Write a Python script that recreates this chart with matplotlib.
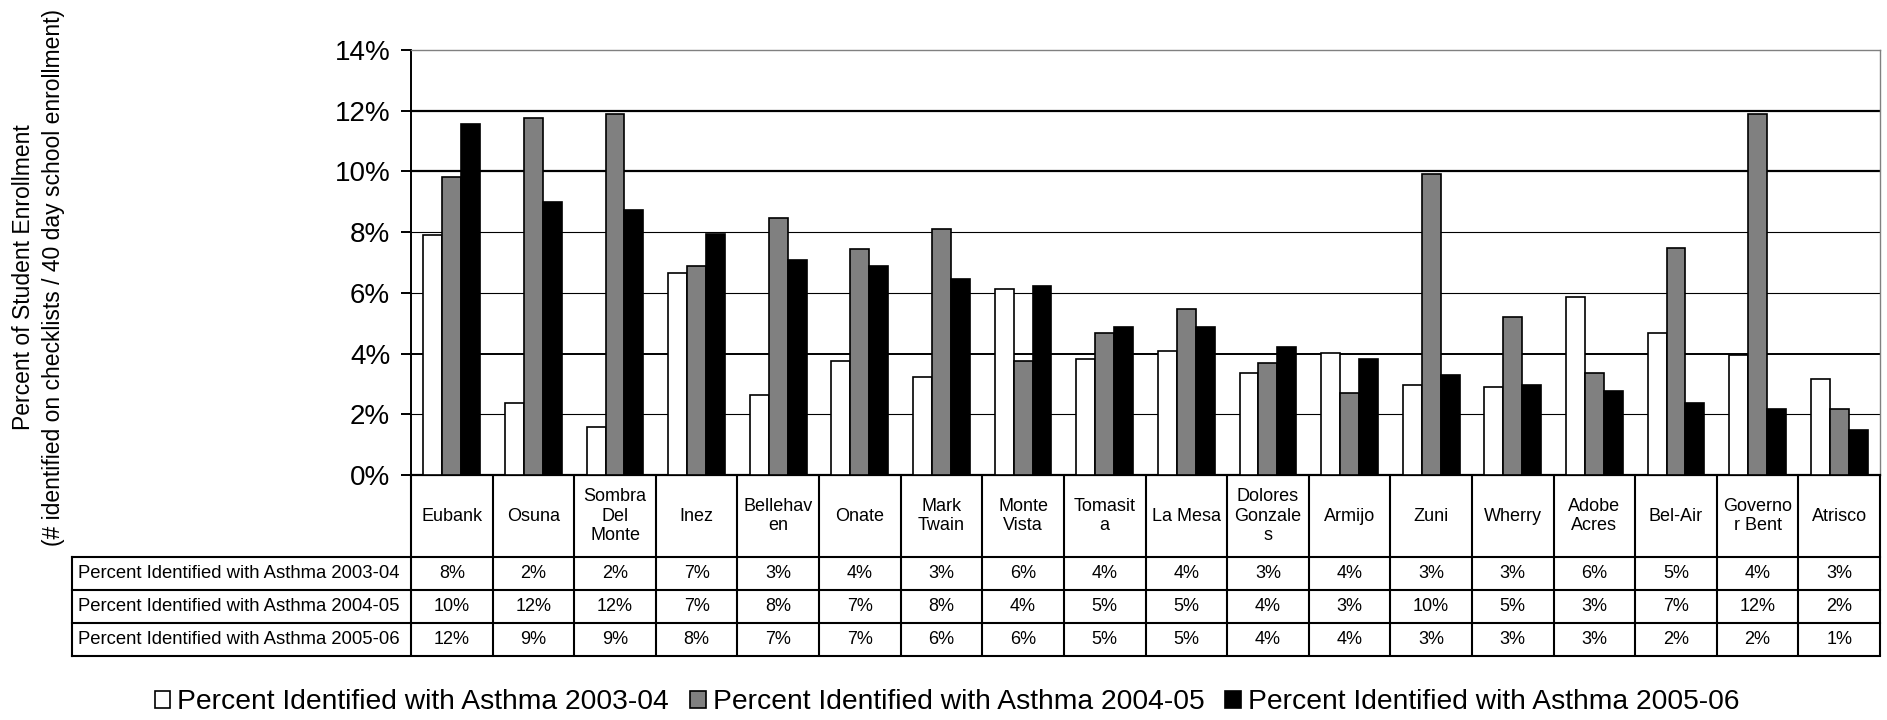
import matplotlib
matplotlib.use("Agg")
import matplotlib.pyplot as plt
from matplotlib.patches import Patch

plt.rcParams["font.family"] = ["Liberation Sans", "DejaVu Sans"]

# School names as they are wrapped in the table header
schools = [
    "Eubank", "Osuna", "Sombra\nDel\nMonte", "Inez", "Bellehav\nen", "Onate",
    "Mark\nTwain", "Monte\nVista", "Tomasit\na", "La Mesa", "Dolores\nGonzale\ns",
    "Armijo", "Zuni", "Wherry", "Adobe\nAcres", "Bel-Air", "Governo\nr Bent", "Atrisco",
]

series_names = [
    "Percent Identified with Asthma 2003-04",
    "Percent Identified with Asthma 2004-05",
    "Percent Identified with Asthma 2005-06",
]

# Percent of enrollment identified with asthma
rate_2003_04 = [7.92, 2.36, 1.57, 6.66, 2.62, 3.75, 3.22, 6.13, 3.81,
                4.08, 3.35, 4.01, 2.95, 2.89, 5.87, 4.67, 3.95, 3.15]
rate_2004_05 = [9.83, 11.76, 11.89, 6.87, 8.47, 7.45, 8.11, 3.75, 4.67,
                5.48, 3.68, 2.69, 9.90, 5.20, 3.35, 7.47, 11.89, 2.16]
rate_2005_06 = [11.57, 9.00, 8.73, 7.93, 7.07, 6.87, 6.47, 6.21, 4.87,
                4.87, 4.21, 3.81, 3.29, 2.95, 2.76, 2.36, 2.16, 1.47]

y_ticks = [0, 2, 4, 6, 8, 10, 12, 14]

series = [rate_2003_04, rate_2004_05, rate_2005_06]
fills = ["white", "#808080", "black"]

W, H = 1887, 720
fig = plt.figure(figsize=(W / 100, H / 100), dpi=100)


def fx(px):
    return px / W


def fy(py):
    return 1 - py / H


# plot area in pixels (left, right, top, bottom)
PL, PR, PT, PB = 411, 1880, 50, 475
ax = fig.add_axes([fx(PL), fy(PB), fx(PR - PL), fy(PT) - fy(PB)])

n = len(schools)
xs = list(range(n))
bw = 0.232
for k, (vals, fc) in enumerate(zip(series, fills)):
    ax.bar([x + (k - 1) * bw for x in xs], vals, width=bw, color=fc,
           edgecolor="black", linewidth=1.2, zorder=3, label=series_names[k])

ax.set_xlim(-0.5, n - 0.5)
ax.set_ylim(0, 14)
ax.set_yticks(y_ticks)
ax.set_yticklabels([f"{t}%" for t in y_ticks], fontsize=20)
ax.set_xticks([])
ax.tick_params(axis="y", length=7, width=1.4, pad=8, direction="out")

ax.yaxis.grid(True, color="black", zorder=0)
grid_lw = {0: 0.0, 2: 0.8, 4: 1.4, 6: 0.8, 8: 0.8, 10: 1.6, 12: 1.6, 14: 0.0}
for t, gl in zip(y_ticks, ax.get_ygridlines()):
    gl.set_linewidth(grid_lw[t])
ax.set_axisbelow(True)

for side in ("top", "right"):
    ax.spines[side].set_color("#808080")
    ax.spines[side].set_linewidth(1.0)
ax.spines["left"].set_linewidth(1.4)
ax.spines["bottom"].set_linewidth(1.6)

# ---- data table under the axis ----
TB_HEAD = 557
ROWS = [557, 590, 623, 656]
LABEL_LEFT = 72
tab = fig.add_axes([fx(PL), fy(ROWS[-1]), fx(PR - PL), fy(PB) - fy(ROWS[-1])])
tab.set_xlim(-0.5, n - 0.5)
tab.set_ylim(ROWS[-1], PB)
tab.axis("off")
cat_px = (PR - PL) / n
label_x0 = -0.5 - (PL - LABEL_LEFT) / cat_px

LW = 1.5
# vertical separators between schools
for i in range(n + 1):
    tab.plot([i - 0.5, i - 0.5], [PB, ROWS[-1]], color="black", lw=LW,
             solid_capstyle="butt", clip_on=False)
# horizontal rules across the label column and the value cells
for y in ROWS:
    tab.plot([label_x0, n - 0.5], [y, y], color="black", lw=LW,
             solid_capstyle="projecting", clip_on=False)
tab.plot([label_x0, label_x0], [ROWS[0], ROWS[-1]], color="black", lw=LW,
         solid_capstyle="projecting", clip_on=False)

for i, name in enumerate(schools):
    tab.text(i, (PB + TB_HEAD) / 2, name, ha="center", va="center",
             fontsize=13, linespacing=1.2, clip_on=False)

for r, (vals, label) in enumerate(zip(series, series_names)):
    yc = (ROWS[r] + ROWS[r + 1]) / 2
    tab.text(label_x0 + 6 / cat_px, yc, label, ha="left", va="center",
             fontsize=13.3, clip_on=False)
    for i, v in enumerate(vals):
        tab.text(i, yc, f"{int(v + 0.5)}%", ha="center", va="center",
                 fontsize=13, clip_on=False)

# ---- y axis title ----
fig.text(fx(24), fy(277), "Percent of Student Enrollment", rotation=90,
         ha="center", va="center", fontsize=16.5)
fig.text(fx(54), fy(277),
         "(# identified on checklists / 40 day school enrollment)",
         rotation=90, ha="center", va="center", fontsize=16.5)

# ---- legend ----
handles = [Patch(facecolor=fc, edgecolor="black", linewidth=1.2) for fc in fills]
fig.legend(handles, series_names, loc="center", ncol=3,
           bbox_to_anchor=(fx(947), fy(702)), frameon=False, fontsize=20.3,
           handlelength=0.55, handleheight=0.55, handletextpad=0.25,
           columnspacing=0.75, borderpad=0)

fig.savefig("out.png", dpi=100)
